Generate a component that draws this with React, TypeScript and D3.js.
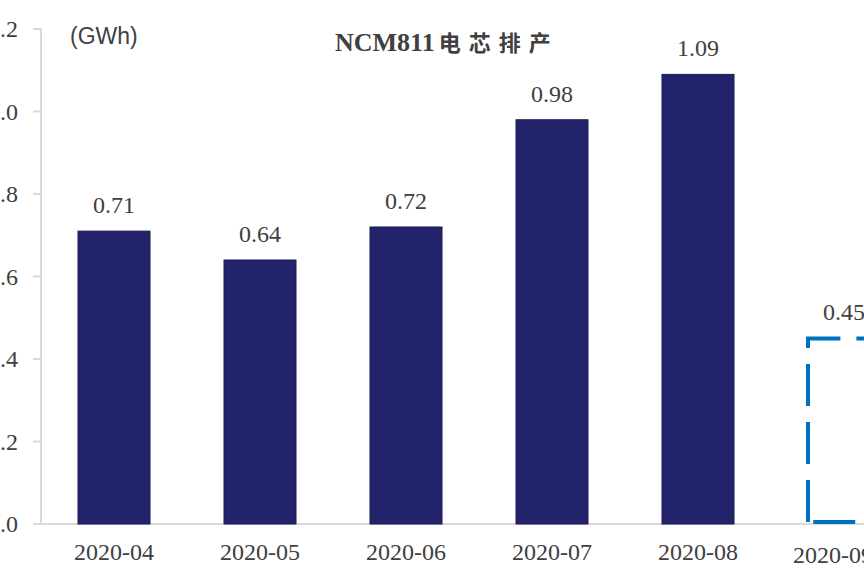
import React from "react";
import * as d3 from "d3";

const categories = ["2020-04", "2020-05", "2020-06", "2020-07", "2020-08", "2020-09"];
const values = [0.71, 0.64, 0.72, 0.98, 1.09, 0.45];
const dashed = [false, false, false, false, false, true];
const yTicks = [0, 0.2, 0.4, 0.6, 0.8, 1.0, 1.2];
const titleLatin = "NCM811";
const titleCJK = "电芯排产";
const unit = "(GWh)";

const W = 864;
const H = 576;
const serif = "'Times New Roman', 'Liberation Serif', serif";
const cjk = "'Noto Sans CJK SC', 'Noto Serif CJK SC', sans-serif";

export default function App() {
  const y = d3.scaleLinear().domain([0, 1.2]).range([524, 29]);
  const x = d3.scalePoint<string>().domain(categories).range([114, 844]);
  const barW = 72;
  const axisX = 41;
  const text = "#404040";

  return (
    <div style={{ position: "fixed", left: 0, top: 0, width: W, height: H, background: "#fff" }}>
      <svg width={W} height={H} style={{ display: "block" }}>
        <rect x={0} y={0} width={W} height={H} fill="#fff" />
        {/* y axis */}
        <line x1={axisX} x2={axisX} y1={y(1.2)} y2={y(0)} stroke="#d9d9d9" strokeWidth={2} />
        {yTicks.map((t) => (
          <g key={t}>
            <line x1={axisX - 8} x2={axisX} y1={y(t)} y2={y(t)} stroke="#d9d9d9" strokeWidth={2} />
            <text x={18} y={y(t) + 8} textAnchor="end" fontFamily={serif} fontSize={24} fill={text}>
              {t.toFixed(1)}
            </text>
          </g>
        ))}
        {/* x axis */}
        <line x1={axisX} x2={W} y1={y(0)} y2={y(0)} stroke="#d9d9d9" strokeWidth={2} />
        {/* bars */}
        {categories.map((c, i) => {
          const cx = x(c) as number;
          const x0 = cx - barW / 2;
          const x1 = cx + barW / 2;
          const top = y(values[i]);
          const bottom = y(0) - 2;
          return (
            <g key={c}>
              {dashed[i] ? (
                <path
                  d={`M${x0},${bottom} L${x0},${top} L${x1},${top} L${x1},${bottom} Z`}
                  fill="none"
                  stroke="#0070C0"
                  strokeWidth={4}
                  strokeDasharray="42 16"
                  strokeLinejoin="miter"
                />
              ) : (
                <rect x={x0} y={top} width={barW} height={y(0) - top} fill="#23236B" stroke="#1a1a55" strokeWidth={1} />
              )}
              <text x={cx} y={top - 18} textAnchor="middle" fontFamily={serif} fontSize={24} fill={text}>
                {values[i].toFixed(2)}
              </text>
              <text
                x={dashed[i] ? cx - 11 : cx}
                y={dashed[i] ? 563 : 560}
                textAnchor="middle"
                fontFamily={serif}
                fontSize={24}
                fill={text}
              >
                {c}
              </text>
            </g>
          );
        })}
        {/* title and unit */}
        <text x={335} y={51} fontFamily={serif} fontWeight="bold" fontSize={26} fill={text}>
          {titleLatin}
          <tspan fontFamily={cjk} fontSize={22} letterSpacing={8} dx={4}>
            {titleCJK}
          </tspan>
        </text>
        <text x={70} y={44} fontFamily="'Liberation Sans', Arial, sans-serif" fontSize={23} fill={text}>
          {unit}
        </text>
      </svg>
    </div>
  );
}
